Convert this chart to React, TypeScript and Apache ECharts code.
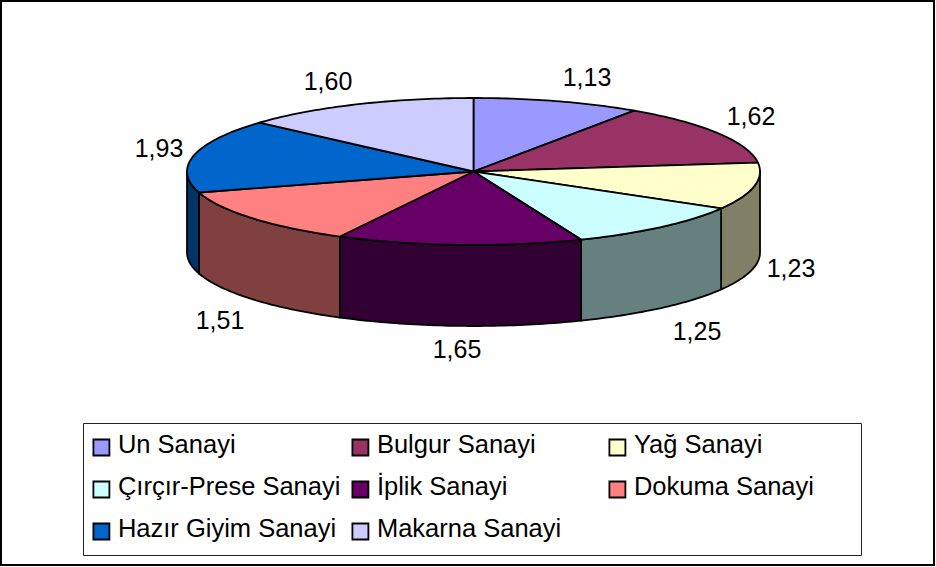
import React, { useEffect, useRef } from "react";
import * as echarts from "echarts";

const categories = ["Un Sanayi", "Bulgur Sanayi", "Yağ Sanayi", "Çırçır-Prese Sanayi", "İplik Sanayi", "Dokuma Sanayi", "Hazır Giyim Sanayi", "Makarna Sanayi"];
const values = [1.13, 1.62, 1.23, 1.25, 1.65, 1.51, 1.93, 1.6];
const topColors = ["#9999FF", "#993366", "#FFFFCC", "#CCFFFF", "#660066", "#FF8080", "#0066CC", "#CCCCFF"];
const sideColors = ["#4C4C80", "#4C1A33", "#808066", "#668080", "#330033", "#804040", "#003366", "#666680"];
const labelCenters = [[587, 77], [751, 116], [791, 268], [697, 331], [457, 349], [220, 320], [159, 148], [328, 81]];
const legendColumns = [
  { left: 92.5, names: [categories[0], categories[3], categories[6]] },
  { left: 351.5, names: [categories[1], categories[4], categories[7]] },
  { left: 608.5, names: [categories[2], categories[5]] },
];

const CX = 473.5, CY = 171.5, RX = 286.5, RY = 73.5, DEPTH = 81;
const FONT = "'Liberation Sans', Arial, sans-serif";
const total = values.reduce((a, b) => a + b, 0);

const pt = (a: number, dy = 0) => [CX + RX * Math.sin(a), CY - RY * Math.cos(a) + dy];
const arc = (a0: number, a1: number, dy = 0) => {
  const n = Math.max(2, Math.ceil(((a1 - a0) * 180) / Math.PI));
  const out: number[][] = [];
  for (let k = 0; k <= n; k++) out.push(pt(a0 + ((a1 - a0) * k) / n, dy));
  return out;
};

function seriesFor(i: number) {
  const before = values.slice(0, i).reduce((a, b) => a + b, 0);
  return {
    type: "custom",
    name: categories[i],
    coordinateSystem: "none",
    silent: true,
    itemStyle: { color: topColors[i] },
    data: [[values[i]]],
    renderItem: (_p: any, api: any) => {
      const v = api.value(0) as number;
      const a0 = (before / total) * Math.PI * 2;
      const a1 = a0 + (v / total) * Math.PI * 2;
      const children: any[] = [];
      const w0 = Math.max(a0, Math.PI / 2);
      const w1 = Math.min(a1, Math.PI * 1.5);
      const stroke = { stroke: "#000", lineWidth: 1.8, lineJoin: "round" };
      if (w1 > w0) {
        children.push({
          type: "polygon",
          shape: { points: [...arc(w0, w1), ...arc(w0, w1, DEPTH).reverse()] },
          style: { fill: sideColors[i], ...stroke },
        });
      }
      children.push({
        type: "polygon",
        shape: { points: [[CX, CY], ...arc(a0, a1)] },
        style: { fill: topColors[i], ...stroke },
      });
      children.push({
        type: "text",
        x: labelCenters[i][0],
        y: labelCenters[i][1],
        style: {
          text: v.toFixed(2).replace(".", ","),
          font: `25px ${FONT}`,
          fill: "#000",
          align: "center",
          verticalAlign: "middle",
        },
      });
      return { type: "group", children };
    },
  };
}

export default function App() {
  const ref = useRef<HTMLDivElement>(null);
  useEffect(() => {
    const chart = echarts.init(ref.current!, undefined, { renderer: "svg" });
    chart.setOption({
      animation: false,
      backgroundColor: "#fff",
      legend: legendColumns.map((c) => ({
        orient: "vertical",
        left: c.left,
        top: 431,
        padding: 0,
        itemGap: 16,
        itemWidth: 16,
        itemHeight: 23,
        selectedMode: false,
        data: c.names,
        icon: "path://M0 0L0 0M0 7L16 7L16 23L0 23Z",
        itemStyle: { borderColor: "#000", borderWidth: 1.8 },
        textStyle: { fontFamily: FONT, fontSize: 25.5, color: "#000", padding: [0, 0, 0, 3.5] },
      })),
      graphic: [
        { type: "rect", shape: { x: 1, y: 1, width: 933, height: 564 }, style: { fill: "none", stroke: "#000", lineWidth: 2 } },
        { type: "rect", shape: { x: 83.5, y: 423.5, width: 778, height: 132 }, style: { fill: "none", stroke: "#222", lineWidth: 1 } },
      ],
      series: values.map((_, i) => seriesFor(i)),
    });
    return () => chart.dispose();
  }, []);
  return <div ref={ref} style={{ position: "fixed", left: 0, top: 0, width: 936, height: 567 }} />;
}
